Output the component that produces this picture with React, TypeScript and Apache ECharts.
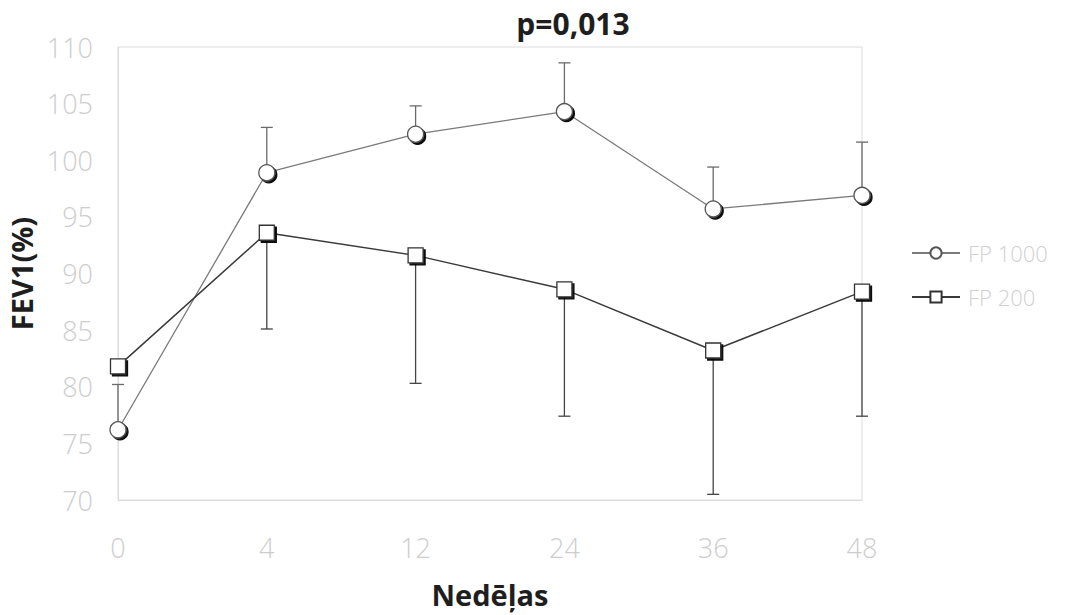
import React, { useEffect, useRef } from "react";
import * as echarts from "echarts";

// Weeks of treatment
const weeks = ["0", "4", "12", "24", "36", "48"];

// FEV1 (%) means
const fp1000 = [76.2, 98.9, 102.3, 104.3, 95.7, 96.9];
const fp200 = [81.8, 93.6, 91.6, 88.6, 83.2, 88.4];

// Error bar ends (FP 1000 upward, FP 200 downward)
const fp1000Upper = [80.2, 102.9, 104.8, 108.6, 99.4, 101.6];
const fp200Lower = [81.8, 85.1, 80.3, 77.4, 70.5, 77.4];

const yTicks = [70, 75, 80, 85, 90, 95, 100, 105, 110];

const labelFont = "Open Sans";

function errorSeries(name: string, ends: number[], means: number[], color: string) {
  const data = weeks.map((w, i) => [i, means[i], ends[i]]);
  return {
    type: "custom",
    name: name + " err",
    z: 1,
    silent: true,
    data,
    renderItem: (params: any, api: any) => {
      const i = api.value(0);
      const p0 = api.coord([i, api.value(1)]);
      const p1 = api.coord([i, api.value(2)]);
      const half = 6;
      return {
        type: "group",
        children: [
          {
            type: "line",
            shape: { x1: p0[0], y1: p0[1], x2: p1[0], y2: p1[1] },
            style: { stroke: color, lineWidth: 1.3 },
          },
          {
            type: "line",
            shape: { x1: p1[0] - half, y1: p1[1], x2: p1[0] + half, y2: p1[1] },
            style: { stroke: color, lineWidth: 1.3 },
          },
        ],
      };
    },
  };
}

export default function App() {
  const ref = useRef<HTMLDivElement>(null);

  useEffect(() => {
    if (!ref.current) return;
    const chart = echarts.init(ref.current, undefined, { renderer: "svg" });
    const markerShadow = {
      shadowColor: "rgba(0,0,0,0.95)",
      shadowBlur: 1,
      shadowOffsetX: 2,
      shadowOffsetY: 2,
    };
    const noShadow = { shadowColor: "transparent", shadowOffsetX: 0, shadowOffsetY: 0, shadowBlur: 0 };
    const boldText = {
      fontFamily: labelFont,
      fontWeight: "bold",
      fontSize: 29,
      color: "#1e1e1e",
    };
    const tickText = {
      fontFamily: labelFont,
      fontWeight: 300,
      fontSize: 27,
      color: "#cdcdcd",
    };
    chart.setOption({
      animation: false,
      backgroundColor: "#ffffff",
      title: {
        text: "p=0,013",
        left: 568,
        top: 3,
        textAlign: "center",
        textStyle: { ...boldText, fontSize: 30 },
      },
      grid: {
        left: 118,
        top: 47,
        right: 217,
        bottom: 115,
        outerBoundsMode: "none",
        containLabel: false,
        show: true,
        borderColor: "#dcdcdc",
        borderWidth: 1,
        backgroundColor: "transparent",
      },
      legend: {
        orient: "vertical",
        left: 906,
        top: 237,
        itemWidth: 48,
        itemHeight: 14,
        itemGap: 22,
        textStyle: {
          fontFamily: labelFont,
          fontWeight: 300,
          fontSize: 22,
          color: "#d0d0d0",
          padding: [0, 0, 0, 3],
        },
        data: [
          { name: "FP 1000", itemStyle: noShadow },
          { name: "FP 200", itemStyle: noShadow },
        ],
      },
      xAxis: {
        type: "category",
        data: weeks,
        boundaryGap: false,
        name: "Nedēļas",
        nameLocation: "middle",
        nameGap: 80,
        nameTextStyle: boldText,
        axisLine: { lineStyle: { color: "#dcdcdc" } },
        axisTick: { show: false },
        axisLabel: { margin: 34, ...tickText },
        splitLine: { show: false },
      },
      yAxis: {
        type: "value",
        min: yTicks[0],
        max: yTicks[yTicks.length - 1],
        interval: 5,
        name: "FEV1(%)",
        nameLocation: "middle",
        nameGap: 80,
        nameRotate: 90,
        nameTextStyle: boldText,
        axisLine: { show: true, lineStyle: { color: "#dcdcdc" } },
        axisTick: { show: false },
        axisLabel: { margin: 25, ...tickText },
        splitLine: { show: false },
      },
      series: [
        errorSeries("FP 1000", fp1000Upper, fp1000, "#6a6a6a"),
        errorSeries("FP 200", fp200Lower, fp200, "#444444"),
        {
          name: "FP 1000",
          type: "line",
          z: 3,
          data: fp1000,
          symbol: "circle",
          symbolSize: 16,
          lineStyle: { color: "#7a7a7a", width: 1.3 },
          itemStyle: {
            color: "#ffffff",
            borderColor: "#555555",
            borderWidth: 1.3,
            ...markerShadow,
          },
        },
        {
          name: "FP 200",
          type: "line",
          z: 4,
          data: fp200,
          symbol: "rect",
          symbolSize: 15,
          lineStyle: { color: "#3a3a3a", width: 1.5 },
          itemStyle: {
            color: "#ffffff",
            borderColor: "#333333",
            borderWidth: 1.3,
            ...markerShadow,
          },
        },
      ],
    });
    return () => chart.dispose();
  }, []);

  return (
    <div
      ref={ref}
      style={{ position: "absolute", left: 0, top: 0, width: 1079, height: 615 }}
    />
  );
}
